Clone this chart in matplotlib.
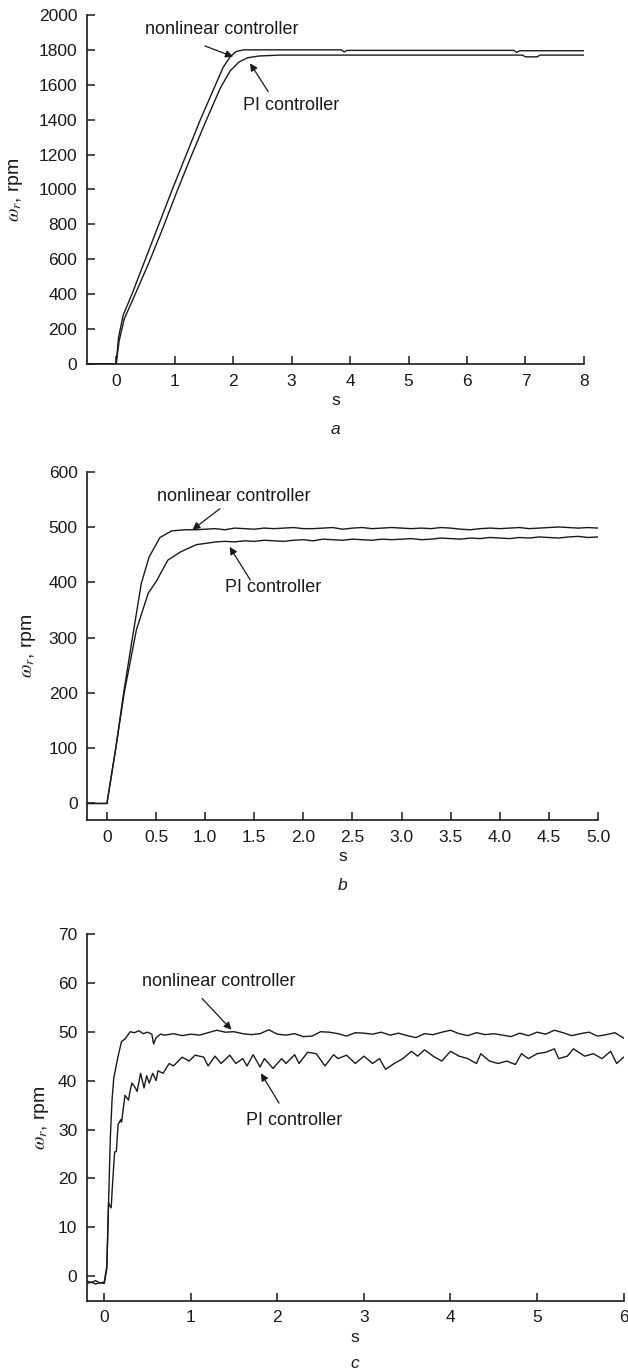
import numpy as np
import matplotlib
matplotlib.use('Agg')
import matplotlib.pyplot as plt

plt.rcParams['font.family'] = ['Liberation Sans', 'DejaVu Sans']
plt.rcParams['mathtext.fontset'] = 'stix'

# ---- panel a: 1800 rpm step ----
t_a_nl = [-0.5, 0.0, 0.04, 0.12, 0.27, 0.5, 0.73, 0.96, 1.2, 1.44, 1.7, 1.83, 1.95, 2.05, 2.18, 2.3,
          3.85, 3.9, 3.95, 6.8, 6.85, 6.9, 8.0]
w_a_nl = [0, 0, 150, 280, 400, 600, 800, 1000, 1200, 1400, 1600, 1700, 1760, 1790, 1800, 1800,
          1800, 1788, 1797, 1797, 1785, 1795, 1795]
t_a_pi = [-0.5, 0.0, 0.05, 0.14, 0.3, 0.56, 0.8, 1.03, 1.27, 1.42, 1.52, 1.78, 1.95, 2.1, 2.25, 2.45,
          2.8, 6.95, 7.0, 7.2, 7.25, 8.0]
w_a_pi = [0, 0, 130, 260, 380, 580, 780, 980, 1180, 1300, 1380, 1580, 1680, 1730, 1755, 1765,
          1770, 1770, 1760, 1760, 1770, 1770]

# ---- panel b: 500 rpm step ----
t_b_nl = [-0.2, 0.0, 0.09, 0.17, 0.26, 0.35, 0.43, 0.54, 0.66, 0.8, 0.9] + [round(1.0 + 0.1 * i, 1) for i in range(41)]
w_b_nl = [0, 0, 100, 200, 300, 398, 446, 481, 493, 495, 495,
          496, 497, 495, 498, 497, 496, 498, 497, 498, 499, 497, 497, 498, 499, 496, 498, 499, 497,
          498, 499, 498, 497, 498, 497, 499, 498, 496, 495, 497, 498, 497, 498, 499, 497, 498, 499,
          500, 499, 498, 499, 498]
t_b_pi = [-0.2, 0.0, 0.09, 0.175, 0.3, 0.42, 0.5, 0.62, 0.75, 0.91, 1.11] + [round(1.2 + 0.1 * i, 1) for i in range(39)]
w_b_pi = [0, 0, 100, 199, 314, 380, 401, 440, 455, 468, 473,
          474, 473, 475, 474, 476, 475, 474, 476, 477, 475, 478, 477, 476, 478, 477, 476, 478, 477,
          478, 479, 477, 478, 480, 479, 478, 480, 479, 481, 480, 479, 481, 480, 482, 481, 480, 482,
          483, 481, 482]

# ---- panel c: 50 rpm step ----
t_c_nl = [-0.2, -0.15, -0.1, -0.05, 0.0, 0.03, 0.05, 0.07, 0.09, 0.11, 0.16, 0.2, 0.24, 0.3, 0.35,
          0.4, 0.45, 0.5, 0.55, 0.57, 0.6, 0.65] + [round(0.7 + 0.1 * i, 1) for i in range(54)]
w_c_nl = [-1.0, -1.3, -0.9, -1.4, -1.2, 2.0, 15.0, 28.0, 36.0, 40.5, 45.0, 48.0, 48.5, 50.0, 49.8,
          50.2, 49.6, 49.9, 49.5, 47.5, 48.8, 49.5,
          49.3, 49.6, 49.2, 49.5, 49.3, 49.8, 50.3, 49.9, 50.0, 49.6, 49.4, 49.6, 50.4, 49.5,
          49.3, 49.6, 49.0, 49.1, 50.0, 49.9, 49.6, 49.1, 49.8, 49.7, 49.5, 49.9, 49.3, 49.7,
          49.2, 48.8, 49.6, 49.4, 49.9, 50.3, 49.6, 49.2, 49.8, 49.4, 49.6, 49.3, 49.0, 49.7,
          49.2, 49.9, 49.5, 50.3, 49.8, 49.2, 49.6, 49.9, 49.1, 49.4, 49.8, 48.7]
t_c_pi = [-0.2, -0.15, -0.1, -0.05, 0.0, 0.03, 0.05, 0.06, 0.08, 0.1, 0.12, 0.14, 0.16, 0.19, 0.2,
          0.24, 0.28, 0.3, 0.32, 0.36, 0.38, 0.42, 0.46, 0.49, 0.52, 0.56, 0.6, 0.62, 0.68, 0.75,
          0.8, 0.9, 0.98, 1.05, 1.15, 1.2, 1.28, 1.35, 1.45, 1.52, 1.6, 1.65, 1.72, 1.8, 1.85,
          1.95, 2.05, 2.1, 2.2, 2.25, 2.35, 2.45, 2.55, 2.65, 2.7, 2.8, 2.9, 3.0, 3.1, 3.18,
          3.25, 3.35, 3.45, 3.55, 3.62, 3.7, 3.8, 3.9, 4.0, 4.1, 4.2, 4.3, 4.35, 4.45, 4.55,
          4.65, 4.75, 4.82, 4.9, 5.0, 5.1, 5.2, 5.25, 5.35, 5.42, 5.55, 5.65, 5.75, 5.85, 5.92, 6.0]
w_c_pi = [-1.5, -1.2, -1.6, -1.3, -1.5, 1.5, 15.0, 14.5, 14.0, 20.0, 25.4, 25.5, 31.0, 32.0, 31.5,
          37.0, 36.0, 38.0, 39.5, 38.5, 37.8, 41.5, 38.5, 41.0, 39.5, 41.5, 40.0, 42.0, 41.5, 43.5,
          43.0, 44.8, 44.0, 45.2, 44.8, 43.0, 45.0, 43.5, 45.2, 43.5, 44.5, 43.0, 45.3, 42.8, 44.5,
          42.5, 44.5, 43.5, 45.3, 43.5, 45.8, 45.5, 43.0, 45.3, 44.5, 45.2, 43.5, 45.0, 43.5, 44.5,
          42.3, 43.5, 44.5, 46.0, 45.0, 46.3, 45.0, 44.0, 46.0, 45.0, 44.5, 43.5, 45.5, 44.0, 43.5,
          44.0, 43.3, 45.5, 44.5, 45.5, 45.8, 46.5, 44.5, 45.0, 46.5, 45.0, 45.5, 44.5, 46.0, 43.5, 44.8]

panels = [
    dict(t_nl=t_a_nl, w_nl=w_a_nl, t_pi=t_a_pi, w_pi=w_a_pi, rect=[0.1384, 0.7347, 0.7914, 0.2544],
         xlim=(-0.5, 8), ylim=(0, 2000), xticks=np.arange(0, 9, 1), xfmt='%d', yticks=np.arange(0, 2001, 200),
         nl_txt=(1.80, 1918), nl_arr=((1.52, 1822), (2.0, 1761)),
         pi_txt=(3.0, 1484), pi_arr=((2.60, 1561), (2.29, 1723)), letter='a', ylab_x=-0.125, let_y=-0.189),
    dict(t_nl=t_b_nl, w_nl=w_b_nl, t_pi=t_b_pi, w_pi=w_b_pi, rect=[0.1390, 0.4023, 0.8132, 0.2539],
         xlim=(-0.2, 5), ylim=(-30, 600), xticks=np.arange(0, 5.01, 0.5), xfmt='%.1f', yticks=np.arange(0, 601, 100),
         nl_txt=(1.29, 556), nl_arr=((1.15, 533), (0.87, 495)),
         pi_txt=(1.69, 390), pi_arr=((1.46, 404), (1.25, 464)), letter='b', ylab_x=-0.097, let_y=-0.187),
    dict(t_nl=t_c_nl, w_nl=w_c_nl, t_pi=t_c_pi, w_pi=w_c_pi, rect=[0.1384, 0.0520, 0.8546, 0.2673],
         xlim=(-0.2, 6), ylim=(-5, 70), xticks=np.arange(0, 7, 1), xfmt='%d', yticks=np.arange(0, 71, 10),
         nl_txt=(1.32, 60.2), nl_arr=((1.13, 56.8), (1.47, 50.4)),
         pi_txt=(2.19, 31.9), pi_arr=((2.02, 35.4), (1.81, 41.5)), letter='c', ylab_x=-0.067, let_y=-0.172),
]

fig = plt.figure(figsize=(6.28, 13.72), dpi=100)
fs = 12.5
fs_txt = 13
col = '#1a1a1a'

for p in panels:
    ax = fig.add_axes(p['rect'])
    ax.plot(p['t_nl'], p['w_nl'], color=col, lw=1.0)
    ax.plot(p['t_pi'], p['w_pi'], color=col, lw=1.0)
    ax.set_xlim(*p['xlim'])
    ax.set_ylim(*p['ylim'])
    ax.set_xticks(p['xticks'])
    labels = ['0' if abs(v) < 1e-9 else p['xfmt'] % v for v in p['xticks']]
    ax.set_xticklabels(labels)
    ax.set_yticks(p['yticks'])
    for s in ['top', 'right']:
        ax.spines[s].set_visible(False)
    for s in ['left', 'bottom']:
        ax.spines[s].set_linewidth(1.2)
        ax.spines[s].set_color(col)
    ax.tick_params(direction='in', length=5.5, width=1.1, color=col, labelsize=fs, pad=7, labelcolor=col)
    ax.set_xlabel('s', fontsize=fs, labelpad=3, color=col)
    ax.set_ylabel(r'$\omega_r$, rpm', fontsize=14, color=col)
    ax.yaxis.set_label_coords(p['ylab_x'], 0.5)
    ax.text(0.5, p['let_y'], p['letter'], transform=ax.transAxes, ha='center', va='center',
            fontsize=fs, style='italic', color=col)
    ax.text(*p['nl_txt'], 'nonlinear controller', ha='center', va='center', fontsize=fs_txt, color=col)
    ax.text(*p['pi_txt'], 'PI controller', ha='center', va='center', fontsize=fs_txt, color=col)
    for tail, head in [p['nl_arr'], p['pi_arr']]:
        ax.annotate('', xy=head, xytext=tail,
                    arrowprops=dict(arrowstyle='-|>', color=col, lw=0.9, mutation_scale=11,
                                    shrinkA=0, shrinkB=0))

fig.savefig('out.png', dpi=100)
